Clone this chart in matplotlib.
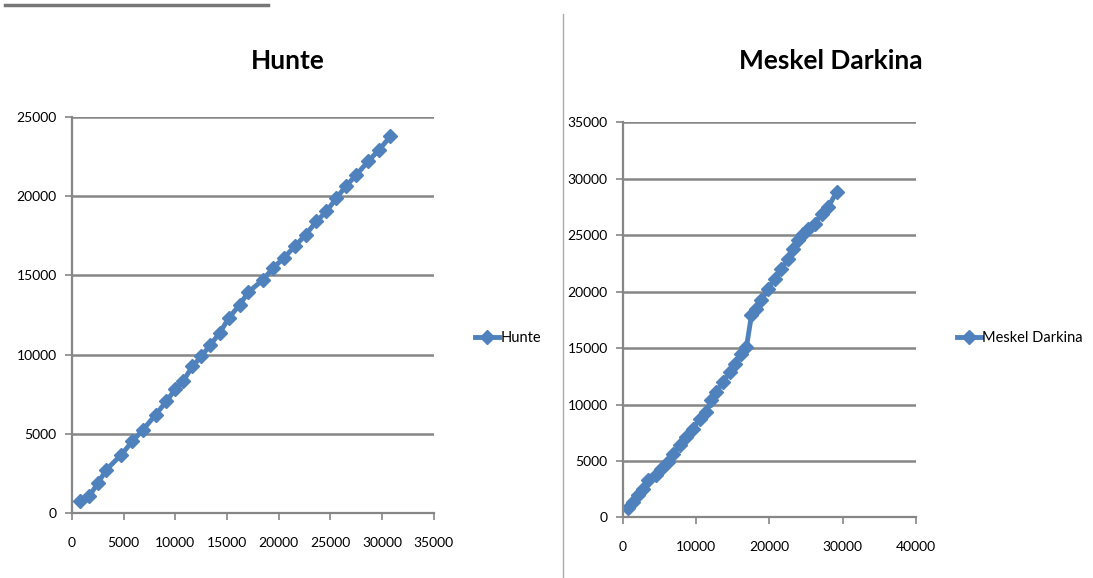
import matplotlib.pyplot as plt
from matplotlib.lines import Line2D

plt.rcParams['font.family'] = ['Lato', 'DejaVu Sans']

# Hunte series
hunte_x = [806, 1645, 2516, 3323, 4774, 5839, 6871, 8097, 9129, 10000,
           10742, 11645, 12516, 13387, 14290, 15161, 16226, 17032, 18484, 19452,
           20484, 21548, 22613, 23645, 24613, 25581, 26484, 27516, 28645, 29710, 30806]
hunte_y = [737, 1052, 1894, 2736, 3683, 4524, 5261, 6208, 7050, 7828,
           8312, 9259, 9891, 10627, 11364, 12311, 13152, 13931, 14731, 15467,
           16098, 16835, 17572, 18413, 19044, 19886, 20623, 21359, 22201, 22938, 23779]

# Meskel Darkina series
meskel_x = [683, 1367, 2050, 2733, 3417, 4556, 5239, 6150, 6834, 7745,
            8656, 9567, 10478, 11390, 12073, 12756, 13667, 14579, 15262, 16173,
            16856, 17540, 18223, 18907, 19818, 20729, 21640, 22551, 23235, 23918,
            24601, 25285, 26196, 27107, 28018, 29157]
meskel_y = [796, 1386, 1976, 2565, 3302, 3745, 4334, 4924, 5661, 6399,
            7136, 7873, 8757, 9347, 10379, 11116, 12001, 12885, 13622, 14507,
            15097, 17898, 18428, 19225, 20257, 21142, 22026, 22911, 23795, 24532,
            25122, 25564, 26006, 26891, 27480, 28807]

hunte_xticks = [0, 5000, 10000, 15000, 20000, 25000, 30000, 35000]
hunte_yticks = [0, 5000, 10000, 15000, 20000, 25000]
meskel_xticks = [0, 10000, 20000, 30000, 40000]
meskel_yticks = [0, 5000, 10000, 15000, 20000, 25000, 30000, 35000]

blue = '#4F81BD'
grid = '#868686'

fig = plt.figure(figsize=(10.93, 5.78), dpi=100)
fig.patch.set_facecolor('white')


def draw(ax, x, y, xt, yt, title, name, title_x, leg_x):
    ax.plot(x, y, color=blue, lw=3.5, marker='D', ms=7.5, mec=blue, label=name)
    ax.set_xlim(xt[0], xt[-1])
    ax.set_ylim(yt[0], yt[-1])
    ax.set_xticks(xt)
    ax.set_yticks(yt)
    ax.set_xticklabels([str(v) for v in xt], fontsize=10)
    ax.set_yticklabels([str(v) for v in yt], fontsize=10)
    for v in yt:
        ax.axhline(v, color=grid, lw=1.8, zorder=0)
    for s in ['top', 'right']:
        ax.spines[s].set_visible(False)
    ax.spines['left'].set_color(grid)
    ax.spines['bottom'].set_color(grid)
    ax.spines['left'].set_linewidth(1.6)
    ax.spines['bottom'].set_linewidth(1.6)
    ax.tick_params(colors=grid, length=5, width=1.2, labelcolor='black')
    ax.tick_params(axis='x', pad=12)
    ax.tick_params(axis='y', pad=6)
    fig.text(title_x, 0.895, title, ha='center', va='center',
             fontsize=19, fontweight='bold')
    handle = Line2D([], [], color=blue, lw=3.5, marker='D', ms=7.5)
    fig.legend([handle], [name], loc='center left', bbox_to_anchor=(leg_x, 0.415),
               frameon=False, fontsize=10.5, handlelength=1.6, handletextpad=0.1,
               borderpad=0, borderaxespad=0)


ax1 = fig.add_axes([0.0659, 0.1125, 0.331, 0.685])
draw(ax1, hunte_x, hunte_y, hunte_xticks, hunte_yticks, 'Hunte', 'Hunte', 0.263, 0.435)

ax2 = fig.add_axes([0.570, 0.1047, 0.268, 0.684])
draw(ax2, meskel_x, meskel_y, meskel_xticks, meskel_yticks, 'Meskel Darkina',
     'Meskel Darkina', 0.760, 0.876)

# frame lines between the two charts
fig.add_artist(Line2D([5 / 1093, 268 / 1093], [1 - 5 / 578, 1 - 5 / 578],
                      color='#777777', lw=2.5))
fig.add_artist(Line2D([563 / 1093, 563 / 1093], [0, 1 - 14 / 578],
                      color='#aaaaaa', lw=1))

fig.savefig('out.png', dpi=100)
